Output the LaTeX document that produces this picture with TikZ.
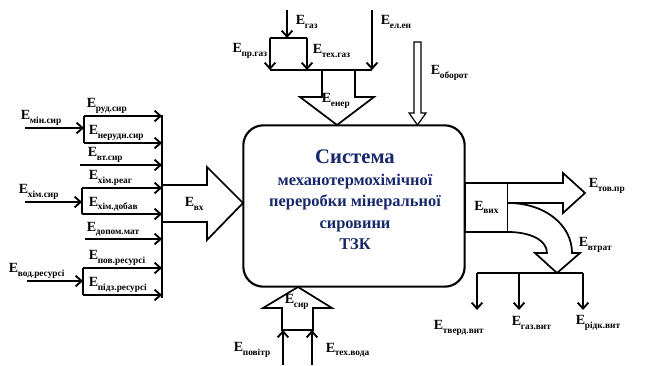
\documentclass[tikz,border=0pt]{standalone}
\usepackage{fontspec}
\setmainfont{Liberation Serif}
\usetikzlibrary{arrows.meta}
\definecolor{sysblue}{RGB}{22,40,105}
\newcommand{\En}[1]{E\kern-0.3pt\raisebox{-0.5ex}{\fontsize{7}{7}\selectfont #1}}

\begin{document}
\begin{tikzpicture}[x=0.75pt,y=-0.75pt,line join=miter,
  wire/.style={line width=1.4pt},
  flow/.style={line width=1.4pt,-{Straight Barb[length=4.5pt,width=8pt]}},
  hollow/.style={draw,fill=white,line width=1.3pt},
  lbl/.style={font=\fontsize{10.5}{10.5}\selectfont\bfseries,inner sep=0.5pt}]
\useasboundingbox (0,0) rectangle (645,365);

% main block
\node[draw,line width=1.6pt,rounded corners=15pt,minimum width=166pt,minimum height=121pt,
  align=center,text=sysblue,font=\bfseries\fontsize{12.3}{16}\selectfont] (sys) at (354,206) {};
\node[align=center,text=sysblue,font=\bfseries\fontsize{12.3}{16.2}\selectfont] (systxt) at (355,200)
  {{\fontsize{15.5}{16.2}\selectfont Система}\\механотермохімічної\\переробки мінеральної\\сировини\\ТЗК};

% top: fuel and energy
\coordinate (gasin) at (287,10);
\coordinate (gasfork) at (287,38);
\coordinate (forkL) at (270,38);
\coordinate (forkR) at (307,38);
\coordinate (barL) at (270,70);
\coordinate (barM) at (307,70);
\coordinate (barR) at (372,70);
\coordinate (elin) at (372,10);
\draw[hollow] (322,70) -- (355,70) -- (355,97) -- (374,97) -- (337,125) -- (300,97) -- (322,97) -- cycle;
\draw[flow] (gasin) -- (gasfork);
\draw[wire] (forkL) -- (forkR);
\draw[flow] (forkL) -- (barL);
\draw[flow] (forkR) -- (barM);
\draw[flow] (elin) -- (barR);
\draw[wire] (barL) -- (barR);
\node[lbl,anchor=west] (lgas) at (295,22) {\En{газ}};
\node[lbl,anchor=west] (lel) at (380,22) {\En{ел.ен}};
\node[lbl,anchor=east] (lprgas) at (268,51) {\En{пр.газ}};
\node[lbl,anchor=west] (ltehgas) at (312,51) {\En{тех.газ}};
\node[lbl,anchor=west] (lener) at (321,101) {\En{енер}};

% recirculated water
\draw[hollow,line width=0.9pt] (414,42) -- (421,42) -- (421,113) -- (426,113) -- (417.5,125) -- (409,113) -- (414,113) -- cycle;
\node[lbl,anchor=west] (lobor) at (430,73) {\En{оборот}};

% left: raw materials
\coordinate (colT) at (162,115);
\coordinate (colB) at (162,298);
\draw[wire] (colT) -- (colB);
\draw[hollow] (162,185) -- (207,185) -- (207,167) -- (243,203) -- (207,240) -- (207,222) -- (162,222) -- cycle;
\node[lbl,anchor=west] (lvh) at (184,204) {\En{вх}};

\draw[flow] (25,128) -- (84,128);
\draw[wire] (84,116) -- (84,143);
\draw[flow] (84,116) -- (162,116);
\draw[flow] (84,143) -- (162,143);
\node[lbl,anchor=south west] (lmin) at (20,126) {\En{мін.сир}};
\node[lbl,anchor=south west] (lrud) at (86,114) {\En{руд.сир}};
\node[lbl,anchor=south west] (lnerud) at (88,141) {\En{нерудн.сир}};

\draw[flow] (80,165) -- (162,165);
\node[lbl,anchor=south west] (lvt) at (87,163) {\En{вт.сир}};

\draw[flow] (25,202) -- (82,202);
\draw[wire] (82,188) -- (82,214);
\draw[flow] (82,188) -- (162,188);
\draw[flow] (82,214) -- (162,214);
\node[lbl,anchor=south west] (lhim) at (18,200) {\En{хім.сир}};
\node[lbl,anchor=south west] (lreag) at (88,186) {\En{хім.реаг}};
\node[lbl,anchor=south west] (ldob) at (88,212) {\En{хім.добав}};

\draw[flow] (85,239) -- (162,239);
\node[lbl,anchor=south west] (ldop) at (86,237) {\En{допом.мат}};

\draw[flow] (27,281) -- (83,281);
\draw[wire] (83,268) -- (83,295);
\draw[flow] (83,268) -- (162,268);
\draw[flow] (83,295) -- (162,295);
\node[lbl,anchor=south west] (lvod) at (8,279) {\En{вод.ресурсі}};
\node[lbl,anchor=south west] (lpov) at (88,266) {\En{пов.ресурсі}};
\node[lbl,anchor=south west] (lpidz) at (88,293) {\En{підз.ресурсі}};

% bottom inputs
\draw[hollow] (298,287) -- (332,308) -- (313,308) -- (313,330) -- (282,330) -- (282,308) -- (263,308) -- cycle;
\draw[flow] (283,365) -- (283,330);
\draw[flow] (312,365) -- (312,330);
\node[lbl,anchor=west] (lsyr) at (284,302) {\En{сир}};
\node[lbl,anchor=west] (lpovitr) at (233,350) {\En{повітр}};
\node[lbl,anchor=west] (ltv) at (325,350) {\En{тех.вода}};

% right: outputs
\node[draw,line width=1.3pt,minimum width=32pt,minimum height=37pt,inner sep=0pt,lbl] (vyh) at (486.5,207.5) {\En{вих}};
\draw[hollow] (508,183) -- (563,183) -- (563,173) -- (585,193) -- (563,213) -- (563,203) -- (508,203);
\node[lbl,anchor=west] (ltov) at (588,186) {\En{тов.пр}};
\draw[hollow] (508,203) .. controls (545,203) and (572,225) .. (572,253) -- (580,253) -- (557,273)
  -- (535,253) -- (547,253) .. controls (547,240) and (530,232) .. (508,232);
\node[lbl,anchor=west] (lvtr) at (578,245) {\En{втрат}};
\coordinate (splL) at (477,273);
\coordinate (splM) at (519,273);
\coordinate (splR) at (583,273);
\draw[wire] (splL) -- (splR);
\draw[flow] (splL) -- (477,310);
\draw[flow] (splM) -- (519,310);
\draw[flow] (splR) -- (583,310);
\node[lbl,anchor=west] (ltv1) at (433,328) {\En{тверд.вит}};
\node[lbl,anchor=west] (lgv) at (511,323) {\En{газ.вит}};
\node[lbl,anchor=west] (lrv) at (575,323) {\En{рідк.вит}};
\end{tikzpicture}
\end{document}
